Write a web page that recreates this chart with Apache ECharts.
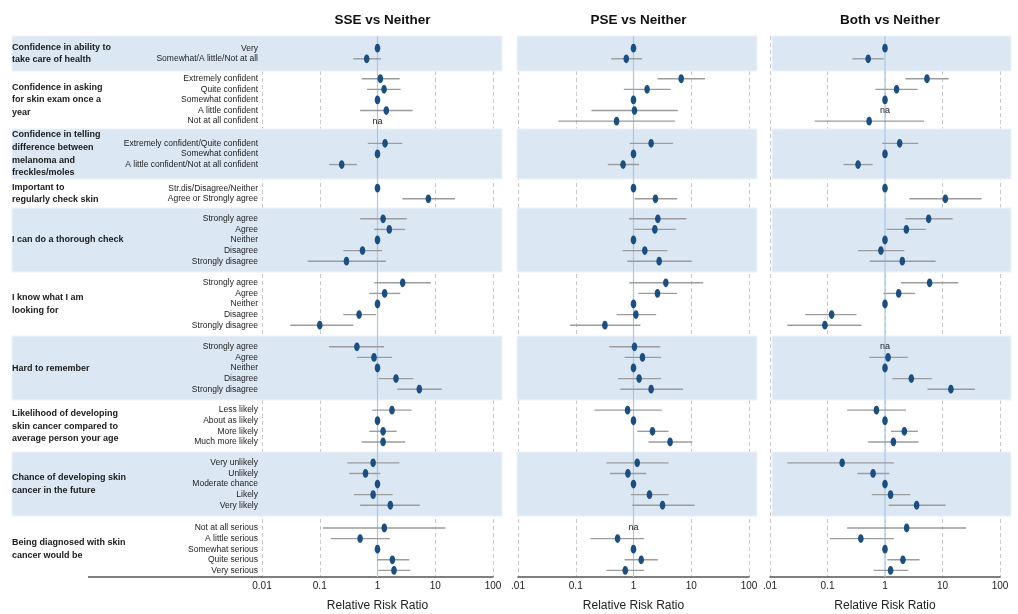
<!DOCTYPE html>
<html><head><meta charset="utf-8">
<script src="https://cdn.jsdelivr.net/npm/echarts@6/dist/echarts.min.js"></script>
<style>html,body{margin:0;padding:0;background:#fff}#c{width:1018px;height:614px}</style>
</head><body><div id="c"></div><script>
// ---------- data ----------
const panelTitles = ['SSE vs Neither', 'PSE vs Neither', 'Both vs Neither'];
const tickValues = [0.01, 0.1, 1, 10, 100];
const tickLabels = [
  ['0.01', '0.1', '1', '10', '100'],
  ['.01', '0.1', '1', '10', '100'],
  ['.01', '0.1', '1', '10', '100']
];
const axisName = 'Relative Risk Ratio';
const naText = 'na';

const groupNames = [
  'Confidence in ability to\ntake care of health',
  'Confidence in asking\nfor skin exam once a\nyear',
  'Confidence in telling\ndifference between\nmelanoma and\nfreckles/moles',
  'Important to\nregularly check skin',
  'I can do a thorough check',
  'I know what I am\nlooking for',
  'Hard to remember',
  'Likelihood of developing\nskin cancer compared to\naverage person your age',
  'Chance of developing skin\ncancer in the future',
  'Being diagnosed with skin\ncancer would be'
];
const agreeItems = ['Strongly agree', 'Agree', 'Neither', 'Disagree', 'Strongly disagree'];
const groupItems = [
  ['Very', 'Somewhat/A little/Not at all'],
  ['Extremely confident', 'Quite confident', 'Somewhat confident', 'A little confident', 'Not at all confident'],
  ['Extremely confident/Quite confident', 'Somewhat confident', 'A little confident/Not at all confident'],
  ['Str.dis/Disagree/Neither', 'Agree or Strongly agree'],
  agreeItems,
  agreeItems,
  agreeItems,
  ['Less likely', 'About as likely', 'More likely', 'Much more likely'],
  ['Very unlikely', 'Unlikely', 'Moderate chance', 'Likely', 'Very likely'],
  ['Not at all serious', 'A little serious', 'Somewhat serious', 'Quite serious', 'Very serious']
];

// estimates (null = na), lower and upper CI (null = reference category)
const sseEst = [1, 0.65,  1.12, 1.30, 1, 1.42, null,  1.35, 1, 0.24,  1, 7.6,
  1.25, 1.60, 1, 0.55, 0.29,  2.73, 1.33, 1, 0.48, 0.10,  0.44, 0.87, 1, 2.09, 5.3,
  1.78, 1, 1.25, 1.25,  0.84, 0.62, 1, 0.84, 1.67,  1.31, 0.50, 1, 1.81, 1.93];
const sseLo = [null, 0.38,  0.53, 0.66, null, 0.50, null,  0.68, null, 0.145,  null, 2.69,
  0.50, 0.88, null, 0.256, 0.062,  0.88, 0.72, null, 0.256, 0.031,  0.145, 0.44, null, 1.05, 2.2,
  0.81, null, 0.72, 0.53,  0.30, 0.325, null, 0.39, 0.50,  0.114, 0.155, null, 0.99, 1.03];
const sseHi = [null, 1.15,  2.42, 2.52, null, 4.07, null,  2.69, null, 0.44,  null, 22,
  3.2, 3.0, null, 1.2, 1.4,  8.4, 2.48, null, 0.94, 0.38,  1.30, 1.78, null, 4.17, 12.9,
  3.9, null, 2.15, 3.0,  2.39, 1.12, null, 1.83, 5.4,  15, 1.64, null, 3.55, 3.7];

const pseEst = [1, 0.75,  6.7, 1.72, 1, 1.04, 0.51,  2.02, 1, 0.66,  1, 2.40,
  2.64, 2.34, 1, 1.57, 2.78,  3.63, 2.6, 1, 1.10, 0.32,  1.04, 1.43, 1, 1.25, 2.02,
  0.79, 1, 2.13, 4.3,  1.16, 0.80, 1, 1.89, 3.18,  null, 0.53, 1, 1.36, 0.72];
const pseLo = [null, 0.41,  2.6, 0.68, null, 0.187, 0.05,  0.86, null, 0.36,  null, 1.05,
  0.84, 1.03, null, 0.65, 0.78,  0.85, 1.22, null, 0.51, 0.08,  0.38, 0.70, null, 0.54, 0.59,
  0.21, null, 1.17, 1.82,  0.34, 0.39, null, 0.90, 0.95,  null, 0.18, null, 0.70, 0.34];
const pseHi = [null, 1.41,  17.4, 4.43, null, 5.86, 5.2,  4.8, null, 1.25,  null, 5.7,
  8.2, 5.4, null, 3.88, 10.2,  16.1, 5.7, null, 2.47, 1.32,  2.9, 3.0, null, 3.0, 7.2,
  3.1, null, 4.04, 10.5,  4.04, 1.66, null, 4.04, 11.4,  null, 1.53, null, 2.64, 1.53];

const bothEst = [1, 0.51,  5.37, 1.59, 1, null, 0.53,  1.80, 1, 0.34,  1, 11.2,
  5.74, 2.35, 1, 0.85, 2.0,  5.97, 1.73, 1, 0.118, 0.09,  null, 1.13, 1, 2.87, 14.0,
  0.71, 1, 2.17, 1.40,  0.18, 0.62, 1, 1.25, 3.55,  2.38, 0.38, 1, 2.05, 1.25];
const bothLo = [null, 0.27,  2.26, 0.68, null, null, 0.06,  0.89, null, 0.19,  null, 2.65,
  2.26, 1.07, null, 0.34, 0.54,  1.90, 0.94, null, 0.041, 0.020,  null, 0.53, null, 1.34, 5.5,
  0.22, null, 1.27, 0.51,  0.020, 0.33, null, 0.59, 1.16,  0.22, 0.11, null, 1.10, 0.63];
const bothHi = [null, 0.95,  12.9, 3.7, null, null, 4.76,  3.8, null, 0.61,  null, 47.8,
  15, 5.1, null, 2.17, 7.6,  18.8, 3.32, null, 0.32, 0.39,  null, 2.5, null, 6.55, 36.6,
  2.32, null, 3.74, 3.85,  1.43, 1.19, null, 2.75, 11.3,  25.9, 1.43, null, 4.0, 2.54];

// ---------- layout ----------
const groupHeights = [3.3, 5.47, 4.72, 2.74, 6.04, 6.04, 6.04, 4.91, 6.04, 5.75];
const groupShift = [0, 0, 0, 0, 0, 0, 0, 0, 0, 0.25];
const FONT = "'Liberation Sans', Arial, sans-serif";
const gridLefts = [262, 518, 770];
const gridWidths = [231, 231, 230];
const bandExt = [[250, 9], [1, 8], [-2, 11]];

const rows = [];      // {y, label}
const groupCenters = [];
const bands = [];
let acc = 0;
groupItems.forEach((items, g) => {
  const H = groupHeights[g];
  const first = acc + (H - items.length) / 2 + 0.5 + groupShift[g];
  items.forEach((lab, i) => rows.push({ y: first + i, label: lab }));
  groupCenters.push(acc + H / 2 + groupShift[g]);
  if (g % 2 === 0) bands.push([acc, acc + H]);
  acc += H;
});
const totalH = acc;

const panelData = [
  [sseEst, sseLo, sseHi],
  [pseEst, pseLo, pseHi],
  [bothEst, bothLo, bothHi]
];

const chart = echarts.init(document.getElementById('c'), null, { renderer: 'canvas' });

const grids = [], xAxes = [], yAxes = [], series = [], titles = [];
for (let p = 0; p < 3; p++) {
  grids.push({ left: gridLefts[p], width: gridWidths[p], top: 36, height: 541, containLabel: false, outerBoundsMode: 'none' });
  const labs = tickLabels[p];
  xAxes.push({
    type: 'log', logBase: 10, min: 0.01, max: 100, gridIndex: p, position: 'bottom',
    name: axisName, nameLocation: 'middle', nameGap: 23,
    nameTextStyle: { fontFamily: FONT, fontSize: 12, color: '#222' },
    axisLine: { show: true, onZero: false, lineStyle: { color: '#555', width: 1.6 } },
    axisTick: { show: false },
    axisLabel: {
      fontFamily: FONT, fontSize: 10, color: '#222', margin: 4,
      formatter: v => { const i = tickValues.findIndex(t => Math.abs(Math.log10(t) - Math.log10(v)) < 1e-6); return i >= 0 ? labs[i] : ''; }
    },
    splitLine: { show: true, lineStyle: { color: '#c9c9c9', type: [4, 3], width: 1 } }
  });
  yAxes.push({ type: 'value', gridIndex: p, min: 0, max: totalH, inverse: true, show: false });
  titles.push({
    text: panelTitles[p], left: gridLefts[p] + gridWidths[p] / 2, top: 8, textAlign: 'center',
    textStyle: { fontFamily: FONT, fontSize: 13.5, fontWeight: 'bold', color: '#111' }
  });

  // shaded bands
  series.push({
    type: 'custom', xAxisIndex: p, yAxisIndex: p, z: 1, silent: true, clip: false,
    data: bands.map(b => [1, b[0], b[1]]),
    renderItem: (params, api) => {
      const cs = params.coordSys;
      const y0 = api.coord([1, api.value(1)])[1];
      const y1 = api.coord([1, api.value(2)])[1];
      return { type: 'rect', shape: { x: cs.x - bandExt[p][0], y: y0, width: cs.width + bandExt[p][0] + bandExt[p][1], height: y1 - y0 },
        style: { fill: '#dce7f4', stroke: '#eef3fa', lineWidth: 1 } };
    }
  });
  // reference line at 1
  series.push({
    type: 'custom', xAxisIndex: p, yAxisIndex: p, z: 2, silent: true, clip: false,
    data: [[1, 0, totalH]],
    renderItem: (params, api) => {
      const a = api.coord([api.value(0), api.value(1)]);
      const b = api.coord([api.value(0), api.value(2)]);
      return { type: 'line', shape: { x1: a[0], y1: a[1], x2: b[0], y2: b[1] }, style: { stroke: '#a9c7e6', lineWidth: 1.2 } };
    }
  });
  // estimates with CIs
  const [est, lo, hi] = panelData[p];
  series.push({
    type: 'custom', xAxisIndex: p, yAxisIndex: p, z: 3, silent: true, clip: false,
    data: rows.map((r, i) => {
      const na = est[i] === null;
      const e = na ? 1 : est[i];
      return [e, r.y, lo[i] === null ? e : lo[i], hi[i] === null ? e : hi[i], na ? 1 : 0];
    }),
    renderItem: (params, api) => {
      const y = api.value(1);
      const pnt = api.coord([api.value(0), y]);
      if (api.value(4) === 1) {
        return { type: 'text', style: { text: naText, x: pnt[0], y: pnt[1], align: 'center', verticalAlign: 'middle',
          fontFamily: FONT, fontSize: 9, fill: '#222' } };
      }
      const children = [];
      const l = api.value(2), h = api.value(3);
      if (l !== h) {
        const a = api.coord([l, y]), b = api.coord([h, y]);
        children.push({ type: 'line', shape: { x1: a[0], y1: a[1], x2: b[0], y2: b[1] }, style: { stroke: '#9c9c9c', lineWidth: 1.4 } });
      }
      children.push({ type: 'ellipse', shape: { cx: pnt[0], cy: pnt[1], rx: 2.8, ry: 4.4 }, style: { fill: '#1b4f82' } });
      return { type: 'group', children };
    }
  });
}

// row labels & group names on first panel
series.push({
  type: 'custom', xAxisIndex: 0, yAxisIndex: 0, z: 4, silent: true, clip: false,
  data: rows.map((r, i) => [1, r.y, i]),
  renderItem: (params, api) => {
    const cs = params.coordSys;
    const y = api.coord([1, api.value(1)])[1];
    return { type: 'text', style: { text: rows[api.value(2)].label, x: cs.x - 4, y: y, align: 'right', verticalAlign: 'middle',
      fontFamily: FONT, fontSize: 8.5, fill: '#222' } };
  }
});
series.push({
  type: 'custom', xAxisIndex: 0, yAxisIndex: 0, z: 4, silent: true, clip: false,
  data: groupCenters.map((c, i) => [1, c, i]),
  renderItem: (params, api) => {
    const cs = params.coordSys;
    const y = api.coord([1, api.value(1)])[1];
    return { type: 'text', style: { text: groupNames[api.value(2)], x: cs.x - 250, y: y, align: 'left', verticalAlign: 'middle',
      fontFamily: FONT, fontSize: 9, fontWeight: 'bold', lineHeight: 12.7, fill: '#1a1a1a' } };
  }
});

chart.setOption({
  animation: false,
  backgroundColor: '#fff',
  title: titles,
  grid: grids,
  xAxis: xAxes,
  yAxis: yAxes,
  series: series,
  graphic: [{
    type: 'line', shape: { x1: 88, y1: 577, x2: 262, y2: 577 }, style: { stroke: '#555', lineWidth: 1.6 }, silent: true
  }]
});
</script></body></html>
